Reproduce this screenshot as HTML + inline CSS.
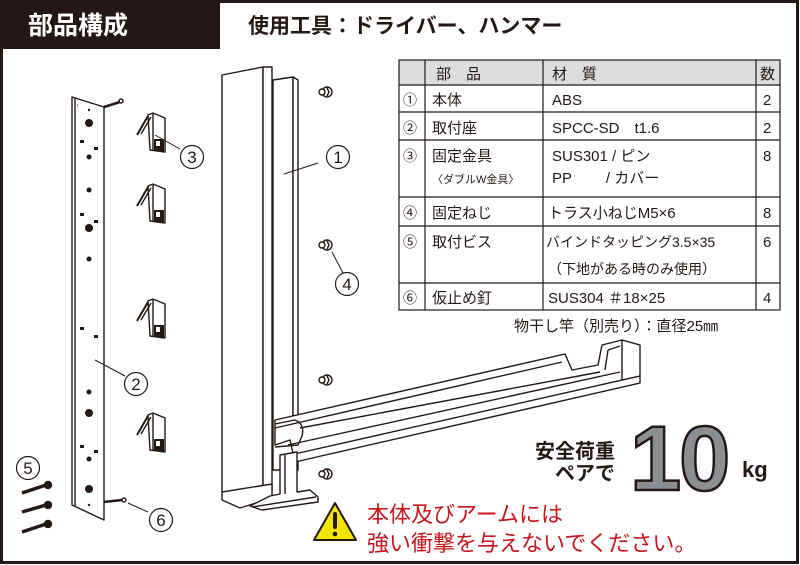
<!DOCTYPE html>
<html><head><meta charset="utf-8"><style>
html,body{margin:0;padding:0;background:#fff}
svg{display:block}
text{font-family:"Liberation Sans","Noto Sans CJK JP",sans-serif}
</style></head><body>
<svg width="800" height="565" viewBox="0 0 800 565" xmlns="http://www.w3.org/2000/svg">
<rect x="0" y="0" width="800" height="565" fill="#fff"/>
<rect x="1.5" y="1.5" width="796" height="561" fill="none" stroke="#231815" stroke-width="3"/>
<rect x="0" y="0" width="220" height="49" fill="#231815"/>
<text x="28" y="34" font-size="25" font-weight="bold" fill="#fff">部品構成</text>
<text x="248" y="33" font-size="21" font-weight="bold" fill="#231815">使用工具：ドライバー、ハンマー</text>

<g stroke="#231815" fill="none" stroke-width="1.4" stroke-linejoin="round">
<polygon points="72,97 104,107 104,520 72,505" fill="#fff"/>
<line x1="75" y1="98" x2="75" y2="506"/>
<line x1="104" y1="107" x2="120" y2="102" stroke-width="2.5"/>
<circle cx="121" cy="101" r="2"/>
<line x1="104" y1="502" x2="122" y2="500" stroke-width="2.5"/>
<circle cx="124" cy="500" r="2"/>
<g fill="#231815" stroke="none">
<circle cx="89" cy="123" r="4"/><circle cx="89" cy="157" r="2.5"/><circle cx="89" cy="190" r="2.5"/>
<circle cx="89" cy="228" r="4"/><circle cx="89" cy="259" r="2.5"/>
<circle cx="89" cy="392" r="2.5"/><circle cx="89" cy="413" r="4"/><circle cx="89" cy="459" r="2.5"/><circle cx="89" cy="489" r="4"/>
<circle cx="89" cy="110" r="1.2"/><circle cx="89" cy="505" r="1.2"/>
<rect x="80" y="140" width="4" height="3"/><rect x="94" y="147" width="4" height="3"/>
<rect x="80" y="213" width="4" height="3"/><rect x="94" y="220" width="4" height="3"/>
<rect x="80" y="327" width="4" height="3"/><rect x="94" y="335" width="4" height="3"/>
<rect x="80" y="445" width="4" height="3"/><rect x="94" y="450" width="4" height="3"/>
</g>
<text x="76" y="108" font-size="7" fill="#231815" stroke="none">↑</text>
<g id="clip">
<polygon points="148,115 153,113 165,118 165,152 150,150" fill="#fff"/>
<line x1="153" y1="114" x2="153" y2="150"/>
<line x1="148" y1="116" x2="137" y2="135" stroke-width="2"/>
<line x1="151" y1="117" x2="141" y2="134"/>
<rect x="154" y="139" width="10" height="12" fill="#231815" stroke="none"/>
<rect x="156" y="141" width="4" height="5" fill="#fff" stroke="none"/>
</g>
<use href="#clip" y="71"/>
<use href="#clip" y="186"/>
<use href="#clip" y="300"/>
<g stroke-width="3.5">
<line x1="22" y1="493" x2="46" y2="485"/>
<line x1="22" y1="512" x2="46" y2="505"/>
<line x1="22" y1="532" x2="46" y2="524"/>
</g>
<circle cx="48" cy="485" r="3.5" fill="#231815"/><circle cx="48" cy="505" r="3.5" fill="#231815"/><circle cx="48" cy="524" r="3.5" fill="#231815"/>

<polygon points="222,75 263,67 263,490 222,492" fill="#fff"/>
<polygon points="263,67 272,67 272,490 263,490" fill="#fff"/>
<polygon points="273,80 293,77 293,470 273,470" fill="#fff"/>
<polygon points="293,77 298,80 298,470 293,470" fill="#fff"/>
<polygon points="222,492 272,484 272,498 240,508 222,500" fill="#fff"/>
<polygon points="275,420 565,354 572,370 598,365 602,345 622,340 640,345 640,383 295,462 290,440 275,445" fill="#fff"/>
<line x1="275" y1="428" x2="562" y2="362"/>
<line x1="300" y1="428" x2="600" y2="372"/>
<line x1="288" y1="445" x2="620" y2="372"/>
<line x1="290" y1="455" x2="640" y2="376"/>
<line x1="622" y1="340" x2="622" y2="380"/>
<line x1="608" y1="350" x2="620" y2="346"/>
<line x1="608" y1="350" x2="605" y2="370"/>
<path d="M275,424 L295,420 Q305,424 302,436 L298,445 L275,447"/>
<polygon points="280,455 297,452 297,492 310,490 318,497 318,502 262,510 250,506 270,496 280,494" fill="#fff"/>
<line x1="285" y1="455" x2="285" y2="494"/>
<line x1="252" y1="507" x2="316" y2="497"/>
<g id="scr"><circle cx="327" cy="92" r="5" fill="#fff"/><circle cx="322" cy="92" r="3" fill="#fff"/><path d="M327,88 l2,4 l-2,4" /></g>
<use href="#scr" y="153"/>
<use href="#scr" y="288"/>
<use href="#scr" y="382"/>

<g stroke-width="1">
<line x1="284" y1="174" x2="318" y2="163"/>
<line x1="332" y1="252" x2="343" y2="273"/>
<line x1="155" y1="135" x2="180" y2="149"/>
<line x1="95" y1="360" x2="125" y2="376"/>
<line x1="128" y1="503" x2="148" y2="512"/>
</g>
<g fill="#fff" stroke-width="1.2">
<circle cx="338" cy="157" r="11.5"/><circle cx="347" cy="284" r="11.5"/>
<circle cx="192" cy="157" r="11.5"/><circle cx="136" cy="384" r="11.5"/>
<circle cx="28" cy="468" r="11.5"/><circle cx="161" cy="520" r="11.5"/>
</g>
</g>
<g font-size="17" fill="#231815" text-anchor="middle">
<text x="338" y="163">1</text><text x="347" y="290">4</text><text x="192" y="163">3</text>
<text x="136" y="390">2</text><text x="28" y="474">5</text><text x="161" y="526">6</text>
</g>

<rect x="399" y="60" width="381" height="25" fill="#dcdddd"/>
<g stroke="#231815" stroke-width="1.2" fill="none">
<rect x="399" y="60" width="381" height="250"/>
<line x1="399" y1="85" x2="780" y2="85"/><line x1="399" y1="112" x2="780" y2="112"/>
<line x1="399" y1="140" x2="780" y2="140"/><line x1="399" y1="197" x2="780" y2="197"/>
<line x1="399" y1="226" x2="780" y2="226"/><line x1="399" y1="283" x2="780" y2="283"/>
<line x1="425" y1="60" x2="425" y2="310"/><line x1="543" y1="60" x2="543" y2="310"/>
<line x1="756" y1="60" x2="756" y2="310"/>
</g>
<g font-size="15" fill="#231815">
<text x="436" y="79">部　品</text><text x="552" y="79">材　質</text><text x="760" y="79">数</text>
<text x="403" y="105" font-size="14">①</text><text x="432" y="105">本体</text><text x="552" y="105">ABS</text><text x="763" y="105">2</text>
<text x="403" y="133" font-size="14">②</text><text x="432" y="133">取付座</text><text x="552" y="133">SPCC-SD　t1.6</text><text x="763" y="133">2</text>
<text x="403" y="161" font-size="14">③</text><text x="432" y="161">固定金具</text><text x="552" y="161">SUS301 / ピン</text><text x="763" y="161">8</text>
<text x="432" y="183" font-size="11">〈ダブルW金具〉</text><text x="552" y="183">PP　　 / カバー</text>
<text x="403" y="218" font-size="14">④</text><text x="432" y="218">固定ねじ</text><text x="548" y="218">トラス小ねじM5×6</text><text x="763" y="218">8</text>
<text x="403" y="247" font-size="14">⑤</text><text x="432" y="247">取付ビス</text><text x="546" y="247" font-size="14">バインドタッピング3.5×35</text><text x="763" y="247">6</text>
<text x="548" y="274" font-size="14">（下地がある時のみ使用）</text>
<text x="403" y="303" font-size="14">⑥</text><text x="432" y="303">仮止め釘</text><text x="548" y="303">SUS304 ＃18×25</text><text x="763" y="303">4</text>
<text x="514" y="331">物干し竿（別売り）：直径25㎜</text>
</g>

<g font-weight="bold" fill="#231815">
<text x="615" y="458" font-size="20" text-anchor="end">安全荷重</text>
<text x="615" y="480" font-size="20" text-anchor="end">ペアで</text>
<text x="630" y="490" font-size="92" fill="#8c8f92" stroke="#231815" stroke-width="2.5" letter-spacing="-2">10</text>
<text x="742" y="477" font-size="22">kg</text>
</g>

<polygon points="335,503 356,540 314,540" fill="#f2e500" stroke="#231815" stroke-width="2" stroke-linejoin="round"/>
<rect x="333" y="512" width="4" height="17" rx="2" fill="#231815"/>
<circle cx="335" cy="534" r="2.3" fill="#231815"/>
<g font-size="22" fill="#c4161c">
<text x="367" y="522">本体及びアームには</text>
<text x="367" y="551">強い衝撃を与えないでください。</text>
</g>
</svg>
</body></html>
